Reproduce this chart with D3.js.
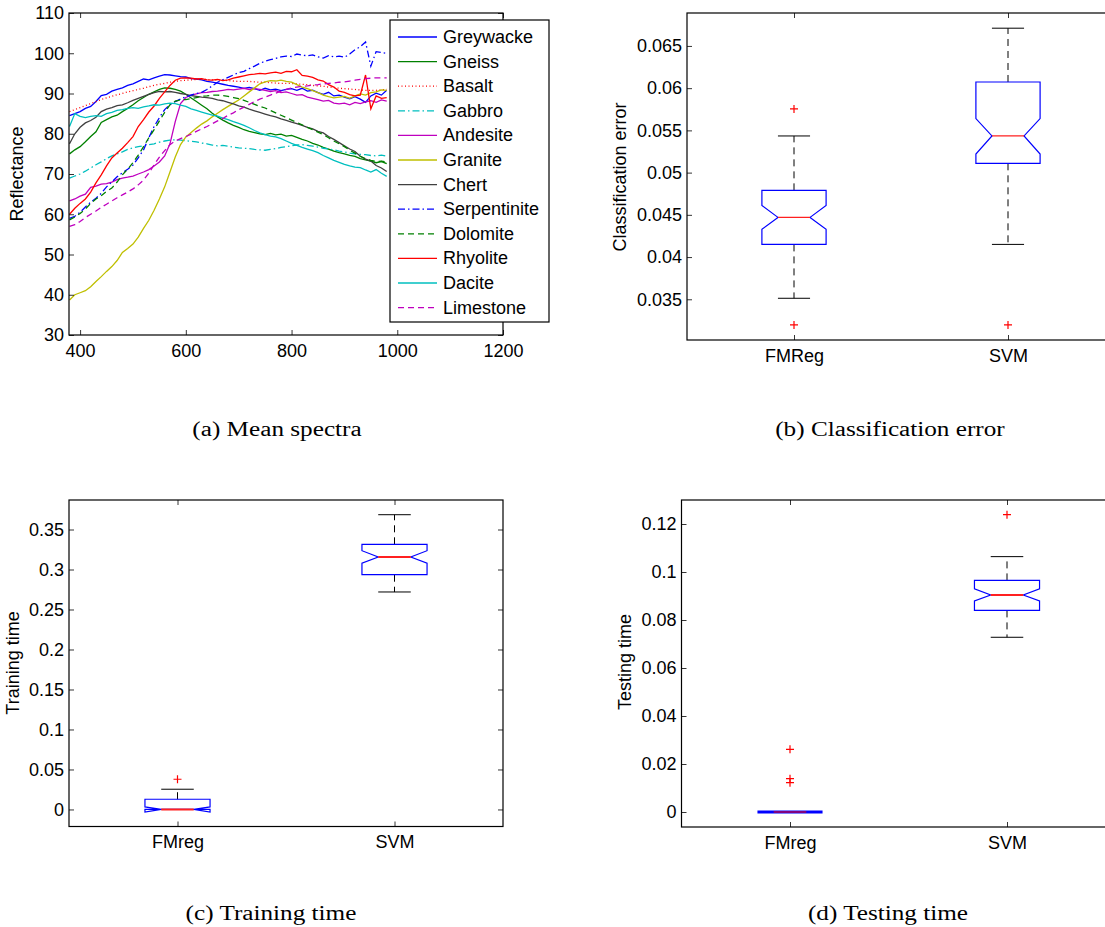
<!DOCTYPE html>
<html>
<head>
<meta charset="utf-8">
<script src="https://cdn.jsdelivr.net/npm/d3@7"></script>
<style>
body { margin: 0; background: #fff; }
svg { font-family: "Liberation Sans", Arial, sans-serif; }
</style>
</head>
<body>
<svg id="fig" width="1105" height="927"></svg>
<script>
const wavelengths = [380, 390, 400, 410, 420, 430, 440, 450, 460, 470,
  480, 490, 500, 510, 520, 530, 540, 550, 560, 570,
  580, 590, 600, 610, 620, 630, 640, 650, 660, 670,
  680, 690, 700, 710, 720, 730, 740, 750, 760, 770,
  780, 790, 800, 810, 820, 830, 840, 850, 860, 870,
  880, 890, 900, 910, 920, 930, 940, 950, 960, 970, 980];

const greywacke = [84.5, 85, 85.5, 86.3, 86.8, 88, 89.5, 89.8, 90.6, 91,
  91.4, 92, 92.4, 93, 93.6, 93.4, 93.9, 94.3, 94.7, 94.6,
  94.4, 94.2, 94.1, 93.7, 93.6, 93.4, 93, 92.8, 92.6, 92.3,
  92, 91.8, 91.6, 91.3, 91.5, 91.2, 90.8, 91.3, 90.9, 91.1,
  90.7, 91, 91.2, 90.8, 91.3, 90.6, 90.8, 90.2, 89.8, 90.3,
  89.4, 89.6, 89.1, 88.7, 89.2, 88.6, 87.8, 89.4, 90.1, 89.6, 90.8];
const gneiss = [75, 76, 76.8, 78, 79.3, 80.5, 82.8, 83.5, 84.2, 84.6,
  85.5, 86.3, 87.2, 88.2, 89, 89.8, 90.4, 91, 91.4, 91.3,
  91, 90.6, 89.8, 88.9, 88, 87.1, 86.2, 85.1, 84.2, 83.4,
  82.7, 82.1, 81.6, 81, 80.6, 80.3, 80, 79.8, 80.1, 79.7,
  79.9, 79.4, 79.6, 79.1, 78.6, 78.2, 77.6, 77.2, 76.6, 76.2,
  75.7, 75.3, 75, 74.6, 74.4, 73.8, 73.5, 73.2, 72.8, 73.1, 72.6];
const basalt = [85.5, 86, 86.5, 87, 87.5, 88, 88.5, 88.9, 89.3, 89.7,
  90, 90.4, 90.7, 91, 91.3, 91.7, 92, 92.3, 92.5, 92.8,
  93, 93.2, 93.3, 93.4, 93.5, 93.5, 93.5, 93.4, 93.3, 93.3,
  93.2, 93.1, 93, 93, 93, 92.9, 92.8, 92.8, 92.7, 92.6,
  92.5, 92.5, 92.5, 92.4, 92.3, 92.2, 92, 91.9, 91.8, 91.6,
  91.5, 91.3, 91.2, 91.1, 91, 90.9, 90.8, 90.8, 90.8, 90.9, 91];
const gabbro = [69, 69.5, 70, 70.7, 71.5, 72.3, 73, 73.8, 74.5, 75,
  75.5, 76.1, 76.5, 76.8, 77, 77.3, 77.5, 77.9, 78.2, 78.4,
  78.5, 78.4, 78.3, 78.1, 78, 77.7, 77.5, 77.2, 77, 77.1,
  76.9, 76.7, 76.5, 76.4, 76.3, 76.1, 76, 75.9, 76.1, 76.3,
  76.6, 76.8, 77, 77.2, 77.3, 77.1, 76.9, 76.7, 76.4, 76.2,
  76, 75.7, 75.5, 75.2, 75, 74.9, 74.8, 74.6, 74.5, 74.7, 74.4];
const andesite = [63.3, 63.8, 64.5, 65, 66.7, 67, 67.5, 67.6, 68, 68.6,
  69, 69.2, 69.5, 70, 70.5, 71.1, 72, 73, 74.5, 77.5,
  83, 87.5, 89, 89.6, 89.9, 90.2, 90.3, 90.5, 90.6, 90.8,
  91, 90.9, 91.1, 91.3, 91, 91.2, 91, 90.8, 90.5, 90.7,
  90.2, 90.4, 90, 89.6, 89.7, 89.1, 88.8, 88.5, 88.1, 88.3,
  87.6, 87.4, 87.6, 87.2, 87.8, 87.5, 87.9, 88.2, 87.8, 88.4, 88.1];
const granite = [38.7, 40, 40.5, 41, 42, 43.3, 44.5, 45.8, 47, 48.5,
  50.5, 51.5, 52.6, 54.3, 56.5, 58.5, 61, 63.8, 66.8, 70.5,
  74.2, 77.3, 79.2, 80.3, 81.4, 82.4, 83.2, 84.2, 85.1, 86,
  86.8, 87.6, 88.4, 89.4, 90.4, 91.4, 92.4, 92.9, 93.2, 93.1,
  93.3, 93, 92.8, 92.2, 91.6, 91.2, 90.7, 90.2, 89.6, 89.2,
  88.9, 89.1, 89.3, 88.8, 89.4, 89.9, 89.6, 90.2, 90.4, 90.9, 90.8];
const chert = [77.5, 80, 81.6, 82.7, 83.3, 84.1, 85.5, 86.1, 86.5, 87,
  87.2, 87.7, 88.3, 88.8, 89.3, 89.8, 90.2, 90.5, 90.4, 90.5,
  90.3, 90, 89.8, 89.5, 89.3, 89.1, 89, 88.8, 88.4, 88.2,
  87.8, 87.4, 86.9, 86.6, 86.1, 85.7, 85.3, 84.9, 84.5, 84.2,
  83.7, 83.3, 82.9, 82.5, 82.1, 81.6, 81.2, 80.6, 80.2, 79.3,
  78.6, 77.8, 77, 76.2, 75.6, 74.4, 73.7, 73.2, 72.1, 71.5, 70.6];
const serpentinite = [59, 59.5, 60.5, 61.8, 63, 64, 65.2, 66.8, 68, 69.3,
  70.3, 71.2, 72.2, 74, 76, 79, 81.8, 84, 86, 87.2,
  88, 88.6, 89.2, 89.6, 90, 90.3, 91, 91.9, 92.8, 93.4,
  94, 94.6, 95.2, 95.5, 96.2, 96.8, 97.5, 98, 98.4, 98.7,
  99.1, 99.3, 99.2, 99.8, 99.5, 99.4, 99.6, 99.1, 98.8, 99.4,
  99.1, 99.3, 99, 99.8, 100.9, 101.6, 102.8, 96.8, 100.4, 100.2, 100];
const dolomite = [58.6, 59.3, 60.2, 61.3, 62.7, 63.8, 64.6, 65.7, 66.5, 68,
  69.8, 71.2, 72.8, 74.7, 76.8, 79, 81, 83.2, 85.3, 87.2,
  88.1, 88.4, 88.5, 88.7, 89, 89.3, 89.4, 89.6, 89.6, 89.5,
  89.3, 89, 88.7, 88.3, 87.8, 87.3, 86.8, 86.4, 85.8, 85.2,
  84.6, 84, 83.4, 82.8, 82.2, 81.6, 81, 80.4, 79.8, 79,
  78.2, 77.5, 76.8, 75.9, 75.2, 74.4, 73.8, 73.4, 73.1, 73.2, 73];
const rhyolite = [60, 61.5, 62.7, 63.8, 65.5, 67.8, 69.8, 72, 74, 75.2,
  76.4, 77.8, 79.3, 81.8, 83.5, 85.4, 86.9, 88.8, 90.4, 92,
  93.3, 93.8, 93.9, 93.8, 93.6, 93.7, 93.4, 93.3, 93.5, 93.2,
  93.4, 93.8, 94.1, 94.4, 94.7, 94.8, 95, 94.9, 95.1, 95.3,
  95, 95.5, 95.4, 95.9, 94.5, 94.3, 94, 93.4, 93.1, 92.2,
  91.6, 90.6, 90.3, 89.7, 89.4, 89.6, 94.6, 86.2, 89.4, 88.8, 89];
const dacite = [81.8, 85, 84.3, 84, 84.3, 84.5, 84.3, 85, 85.3, 85.8,
  86, 86.3, 86.5, 86.3, 86.7, 86.9, 87.2, 87.1, 87.4, 87.6,
  87.5, 87.1, 86.8, 86.2, 85.8, 85.4, 85, 84.6, 84.4, 83.9,
  83.5, 83, 82.6, 82.1, 81.5, 80.8, 80.2, 79.8, 79.4, 79.2,
  78.8, 78.2, 77.6, 77.1, 76.6, 76.2, 75.8, 75.3, 74.6, 74,
  73.4, 72.9, 72.4, 72, 71.7, 71.6, 71, 70.5, 71.1, 70.2, 69.4];
const limestone = [57, 57.4, 58.2, 59.2, 60, 60.8, 61.7, 62.5, 63.3, 64.1,
  64.8, 65.5, 66.3, 67.3, 68.5, 70.2, 72.3, 74.2, 75.8, 77.3,
  78.2, 78.8, 79.3, 79.9, 80.6, 81.2, 81.8, 82.5, 83.2, 83.8,
  84.6, 85.2, 86, 86.6, 87.3, 88, 88.6, 89.1, 89.6, 90.1,
  90.6, 91, 91.4, 91.6, 91.8, 91.9, 92.1, 92.2, 92.4, 92.5,
  92.6, 92.8, 92.9, 93.1, 93.3, 93.5, 93.7, 93.8, 93.9, 93.9, 93.9];

const rockNames = ["Greywacke", "Gneiss", "Basalt", "Gabbro", "Andesite", "Granite",
  "Chert", "Serpentinite", "Dolomite", "Rhyolite", "Dacite", "Limestone"];
const rockValues = [greywacke, gneiss, basalt, gabbro, andesite, granite,
  chert, serpentinite, dolomite, rhyolite, dacite, limestone];

const specXTicks = [400, 600, 800, 1000, 1200];
const specYTicks = [30, 40, 50, 60, 70, 80, 90, 100, 110];

// box stats: [lower whisker, q1, notch low, median, notch high, q3, upper whisker]
const errorMethods = ["FMReg", "SVM"];
const errorStats = [[0.03512, 0.0415, 0.0433, 0.0447, 0.0461, 0.0479, 0.05434],
                    [0.0415, 0.0511, 0.0522, 0.05434, 0.0564, 0.06073, 0.0671]];
const errorOutliers = [[0.05754, 0.03196], [0.03196]];
const errorTicks = [0.035, 0.04, 0.045, 0.05, 0.055, 0.06, 0.065];
const errorTickLabels = ["0.035", "0.04", "0.045", "0.05", "0.055", "0.06", "0.065"];

const timeMethods = ["FMreg", "SVM"];
const trainStats = [[0, 0, -0.0032, 0, 0.0032, 0.0128, 0.0253],
                    [0.2719, 0.2935, 0.3078, 0.3156, 0.3235, 0.3315, 0.3685]];
const trainOutliers = [[0.0378], []];
const trainTicks = [0, 0.05, 0.1, 0.15, 0.2, 0.25, 0.3, 0.35];
const trainTickLabels = ["0", "0.05", "0.1", "0.15", "0.2", "0.25", "0.3", "0.35"];

const testStats = [[0, 0, 0, 0, 0, 0, 0],
                   [0.0728, 0.0840, 0.0879, 0.0904, 0.0930, 0.0965, 0.1064]];
const testOutliers = [[0.0261, 0.0139, 0.0122], [0.1239]];
const testTicks = [0, 0.02, 0.04, 0.06, 0.08, 0.1, 0.12];
const testTickLabels = ["0", "0.02", "0.04", "0.06", "0.08", "0.1", "0.12"];

const rockStyles = [
  {color: "#0000ff", dash: null},
  {color: "#008000", dash: null},
  {color: "#ff0000", dash: "1,2.5"},
  {color: "#00bfbf", dash: "7,3,1.5,3"},
  {color: "#bf00bf", dash: null},
  {color: "#bfbf00", dash: null},
  {color: "#404040", dash: null},
  {color: "#0000ff", dash: "7,3,1.5,3"},
  {color: "#008000", dash: "6,4"},
  {color: "#ff0000", dash: null},
  {color: "#00bfbf", dash: null},
  {color: "#bf00bf", dash: "6,4"}
];

const svg = d3.select("#fig");
const tick = 5;

function frame(g, x, y, xTicks, xLabels, yTicks, yLabels) {
  const [x0, x1] = x.range();
  const [y0, y1] = y.range();
  g.append("g").attr("transform", `translate(0,${y0})`)
    .call(d3.axisBottom(x).tickValues(xTicks).tickFormat((d, i) => xLabels[i])
      .tickSizeInner(-tick).tickSizeOuter(0).tickPadding(9));
  g.append("g").attr("transform", `translate(0,${y1})`)
    .call(d3.axisTop(x).tickValues(xTicks).tickFormat("")
      .tickSizeInner(-tick).tickSizeOuter(0));
  g.append("g").attr("transform", `translate(${x0},0)`)
    .call(d3.axisLeft(y).tickValues(yTicks).tickFormat((d, i) => yLabels[i])
      .tickSizeInner(-tick).tickSizeOuter(0).tickPadding(5));
  g.append("g").attr("transform", `translate(${x1},0)`)
    .call(d3.axisRight(y).tickValues(yTicks).tickFormat("")
      .tickSizeInner(-tick).tickSizeOuter(0));
  g.selectAll(".domain").remove();
  g.selectAll(".tick line").attr("stroke", "#000").attr("stroke-width", 0.8);
  g.selectAll(".tick text")
    .attr("fill", "#000")
    .style("font-size", "18px")
    .style("font-family", "'Liberation Sans', Arial, sans-serif");
  g.append("rect")
    .attr("x", x0).attr("y", y1)
    .attr("width", x1 - x0).attr("height", y0 - y1)
    .attr("fill", "none").attr("stroke", "#000").attr("stroke-width", 1.2);
}

function yLabel(text, cx, cy) {
  svg.append("text")
    .attr("transform", `translate(${cx},${cy}) rotate(-90)`)
    .attr("text-anchor", "middle")
    .attr("dominant-baseline", "central")
    .style("font-size", "18px")
    .text(text);
}

// captions are set in a wide serif, so stretch the Liberation glyphs a bit
function caption(text, cx, cy) {
  const t = svg.append("text")
    .attr("x", cx).attr("y", cy)
    .attr("text-anchor", "middle")
    .attr("dominant-baseline", "central")
    .style("font-family", "'Liberation Serif', 'DejaVu Serif', serif")
    .style("font-size", "20px")
    .text(text);
  const w = t.node().getComputedTextLength();
  t.attr("textLength", w * 1.26).attr("lengthAdjust", "spacingAndGlyphs");
}

// (a) mean spectra
const xa = d3.scaleLinear().domain([379, 1200]).range([69, 503]);
const ya = d3.scaleLinear().domain([30, 110]).range([335, 13]);
const ga = svg.append("g");

const line = d3.line()
  .x((d, i) => xa(wavelengths[i]))
  .y(d => ya(d));

ga.selectAll("path.spec")
  .data(rockValues)
  .join("path")
  .attr("class", "spec")
  .attr("d", line)
  .attr("fill", "none")
  .attr("stroke", (d, i) => rockStyles[i].color)
  .attr("stroke-width", 1.3)
  .attr("stroke-dasharray", (d, i) => rockStyles[i].dash);

frame(ga, xa, ya, specXTicks, specXTicks.map(String), specYTicks, specYTicks.map(String));
yLabel("Reflectance", 17, 174);

const legend = svg.append("g");
legend.append("rect")
  .attr("x", 390).attr("y", 20)
  .attr("width", 159).attr("height", 302)
  .attr("fill", "#fff").attr("stroke", "#000").attr("stroke-width", 1.2);
const items = legend.selectAll("g.item")
  .data(rockNames)
  .join("g")
  .attr("class", "item")
  .attr("transform", (d, i) => `translate(0,${37 + i * 24.6})`);
items.append("line")
  .attr("x1", 398).attr("x2", 437)
  .attr("stroke", (d, i) => rockStyles[i].color)
  .attr("stroke-width", 1.3)
  .attr("stroke-dasharray", (d, i) => rockStyles[i].dash);
items.append("text")
  .attr("x", 443)
  .attr("dominant-baseline", "central")
  .style("font-size", "18px")
  .text(d => d);

caption("(a) Mean spectra", 277, 429);

// box plots
function boxPanel(g, x, y, stats, outliers, medianWidth) {
  const hw = 0.15, nw = 0.075;
  const poly = d3.line().x(d => x(d[0])).y(d => y(d[1]));
  stats.forEach((s, i) => {
    const c = i + 1;
    const [wlo, q1, nlo, med, nhi, q3, whi] = s;
    g.append("line")
      .attr("x1", x(c)).attr("x2", x(c)).attr("y1", y(q3)).attr("y2", y(whi))
      .attr("stroke", "#000").attr("stroke-dasharray", "7,5");
    g.append("line")
      .attr("x1", x(c)).attr("x2", x(c)).attr("y1", y(q1)).attr("y2", y(wlo))
      .attr("stroke", "#000").attr("stroke-dasharray", "7,5");
    [wlo, whi].forEach(v => {
      g.append("line")
        .attr("x1", x(c - nw)).attr("x2", x(c + nw)).attr("y1", y(v)).attr("y2", y(v))
        .attr("stroke", "#000");
    });
    const pts = [[c - hw, q1], [c - hw, nlo], [c - nw, med], [c - hw, nhi], [c - hw, q3],
                 [c + hw, q3], [c + hw, nhi], [c + nw, med], [c + hw, nlo], [c + hw, q1]];
    g.append("path")
      .attr("d", poly(pts) + "Z")
      .attr("fill", "none")
      .attr("stroke", "#0000ff")
      .attr("stroke-width", q3 === q1 ? 3 : 1.2);
    g.append("line")
      .attr("x1", x(c - nw)).attr("x2", x(c + nw)).attr("y1", y(med)).attr("y2", y(med))
      .attr("stroke", q3 === q1 ? "#800080" : "#ff2020")
      .attr("stroke-width", medianWidth);
    g.selectAll(null)
      .data(outliers[i])
      .join("path")
      .attr("d", v => `M${x(c) - 4},${y(v)}H${x(c) + 4}M${x(c)},${y(v) - 4}V${y(v) + 4}`)
      .attr("stroke", "#ff0000")
      .attr("stroke-width", 1.2);
  });
}

// (b) classification error
const xb = d3.scaleLinear().domain([0.5, 2.5]).range([687, 1115]);
const yb = d3.scaleLinear().domain([0.03018, 0.0689]).range([340, 13]);
const gb = svg.append("g");
boxPanel(gb, xb, yb, errorStats, errorOutliers, 1.2);
frame(gb, xb, yb, [1, 2], errorMethods, errorTicks, errorTickLabels);
yLabel("Classification error", 620, 177);
caption("(b) Classification error", 890, 429);

// (c) training time
const xc = d3.scaleLinear().domain([0.5, 2.5]).range([69, 503]);
const yc = d3.scaleLinear().domain([-0.0213, 0.3869]).range([826.5, 500]);
const gc = svg.append("g");
boxPanel(gc, xc, yc, trainStats, trainOutliers, 2);
frame(gc, xc, yc, [1, 2], timeMethods, trainTicks, trainTickLabels);
yLabel("Training time", 13, 663);
caption("(c) Training time", 271, 913);

// (d) testing time
const xd = d3.scaleLinear().domain([0.5, 2.5]).range([681.5, 1115.5]);
const yd = d3.scaleLinear().domain([-0.00625, 0.13]).range([827, 500]);
const gd = svg.append("g");
boxPanel(gd, xd, yd, testStats, testOutliers, 2);
frame(gd, xd, yd, [1, 2], timeMethods, testTicks, testTickLabels);
yLabel("Testing time", 625, 662);
caption("(d) Testing time", 888, 913);
</script>
</body>
</html>
